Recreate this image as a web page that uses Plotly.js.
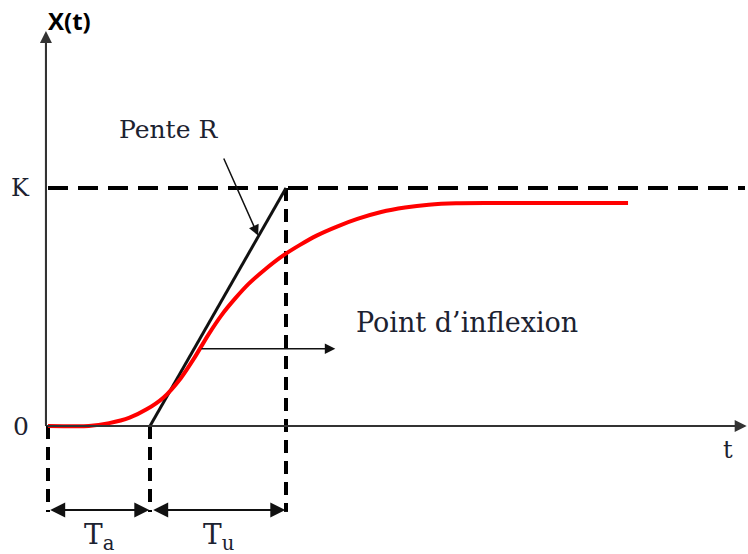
<!DOCTYPE html>
<html>
<head>
<meta charset="utf-8">
<script src="https://cdn.plot.ly/plotly-3.0.1.min.js"></script>
<style>
  html, body { margin: 0; padding: 0; background: #fff; }
  #chart { width: 748px; height: 554px; }
</style>
</head>
<body>
<div id="chart"></div>
<script>
// Step response of a process with an S-shaped curve (Broïda / Strejc style)
const K = 1;        // final reference level
const Ta = 3;       // apparent dead time
const Tu = 4;       // rise time given by the tangent
const tEnd = 20.5;  // end of the time axis

// Measured response X(t)
const tValues = [0, 1.2, 1.8, 2.4, 2.9, 3.4, 3.9, 4.3, 4.7, 5.1, 5.5, 5.9, 6.4, 6.9, 7.4, 7.9, 8.5, 9.1, 9.8, 10.5, 11.2, 12, 13, 15, 17.06];
const xValues = [0, 0, 0.012, 0.035, 0.07, 0.12, 0.2, 0.285, 0.38, 0.465, 0.535, 0.597, 0.66, 0.715, 0.76, 0.8, 0.838, 0.87, 0.899, 0.918, 0.93, 0.936, 0.937, 0.937, 0.937];

// Inflection point used for the annotation
const tInflexion = 4.47;
const xInflexion = 0.325;

const yBrace = -0.353;    // level of the Ta / Tu dimension arrows
const yGuideEnd = -0.361; // bottom of the vertical guide lines

const guideV = { color: '#000', width: 4, dash: '13px,8px' };

const traces = [
  // horizontal asymptote K
  { x: [0, tEnd], y: [K, K], mode: 'lines', line: { color: '#000', width: 4, dash: '20px,10px' }, hoverinfo: 'skip' },
  // vertical guides
  { x: [0, 0], y: [0, yGuideEnd], mode: 'lines', line: guideV, hoverinfo: 'skip' },
  { x: [Ta, Ta], y: [0, yGuideEnd], mode: 'lines', line: guideV, hoverinfo: 'skip' },
  { x: [Ta + Tu, Ta + Tu], y: [K, yGuideEnd], mode: 'lines', line: guideV, hoverinfo: 'skip' },
  // tangent at the inflection point (slope R)
  { x: [Ta, Ta + Tu], y: [0, K], mode: 'lines', line: { color: '#111', width: 3 }, hoverinfo: 'skip' },
  // response curve
  { x: tValues, y: xValues, mode: 'lines', line: { color: '#ff0000', width: 4, shape: 'spline', smoothing: 0.6 }, hoverinfo: 'skip' }
];

const serif = 'DejaVu Serif, serif';
const txt = '#1c2230';

function arrow(x, y, ax, ay, extra) {
  return Object.assign({
    x: x, y: y, ax: ax, ay: ay, xref: 'x', yref: 'y', axref: 'x', ayref: 'y',
    text: '', showarrow: true, arrowhead: 2, arrowsize: 1.3, arrowwidth: 1.5, arrowcolor: '#111'
  }, extra || {});
}

const annotations = [
  // axes arrows
  arrow(tEnd + 0.05, 0, -0.06, 0, { arrowwidth: 2, arrowsize: 1.2, arrowcolor: '#333' }),
  arrow(-0.06, 1.66, -0.06, 0, { arrowwidth: 2, arrowsize: 1.2, arrowcolor: '#333' }),
  // Ta and Tu dimension arrows
  arrow(Ta - 0.02, yBrace, 0.02, yBrace, { arrowside: 'end+start', arrowsize: 1.5, arrowwidth: 2 }),
  arrow(Ta + Tu - 0.02, yBrace, Ta + 0.05, yBrace, { arrowside: 'end+start', arrowsize: 1.5, arrowwidth: 2 }),
  // slope pointer
  arrow(6.18, 0.80, 5.15, 1.13, { arrowsize: 1.4 }),
  // inflection pointer
  arrow(8.45, xInflexion, tInflexion, xInflexion, { arrowsize: 1.4 }),

  // labels
  { x: -0.06, y: 1.705, xref: 'x', yref: 'y', xanchor: 'left', yanchor: 'middle', showarrow: false,
    text: '<b>X(t)</b>', font: { family: 'Open Sans, Arial, sans-serif', size: 24, color: '#000' } },
  { x: -0.8, y: K, xref: 'x', yref: 'y', showarrow: false, text: 'K', font: { family: serif, size: 24, color: txt } },
  { x: -0.78, y: 0, xref: 'x', yref: 'y', showarrow: false, text: '0', font: { family: serif, size: 25, color: txt } },
  { x: 20.0, y: -0.1, xref: 'x', yref: 'y', showarrow: false, text: 't', font: { family: serif, size: 24, color: txt } },
  { x: 3.53, y: 1.244, xref: 'x', yref: 'y', showarrow: false, text: 'Pente R', font: { family: serif, size: 25, color: txt } },
  { x: 9.0, y: 0.433, xref: 'x', yref: 'y', xanchor: 'left', showarrow: false, text: 'Point d’inflexion', font: { family: serif, size: 27, color: txt } },
  { x: Ta / 2, y: -0.466, xref: 'x', yref: 'y', showarrow: false, text: 'T<sub>a</sub>', font: { family: serif, size: 28, color: txt } },
  { x: Ta + Tu / 2, y: -0.466, xref: 'x', yref: 'y', showarrow: false, text: 'T<sub>u</sub>', font: { family: serif, size: 28, color: txt } }
];

const layout = {
  width: 748, height: 554,
  margin: { l: 0, r: 0, t: 0, b: 0 },
  paper_bgcolor: '#fff', plot_bgcolor: '#fff',
  showlegend: false,
  xaxis: { range: [-48 / 34, 700 / 34], visible: false, fixedrange: true },
  yaxis: { range: [-128 / 238, 426 / 238], visible: false, fixedrange: true },
  shapes: [
    // time axis and X axis lines
    { type: 'line', xref: 'x', yref: 'y', x0: -0.06, x1: tEnd, y0: 0, y1: 0, line: { color: '#333', width: 2 }, layer: 'below' },
    { type: 'line', xref: 'x', yref: 'y', x0: -0.06, x1: -0.06, y0: 0, y1: 1.62, line: { color: '#333', width: 2 }, layer: 'below' }
  ],
  annotations: annotations
};

Plotly.newPlot('chart', traces, layout, { displayModeBar: false, staticPlot: true });
</script>
</body>
</html>
